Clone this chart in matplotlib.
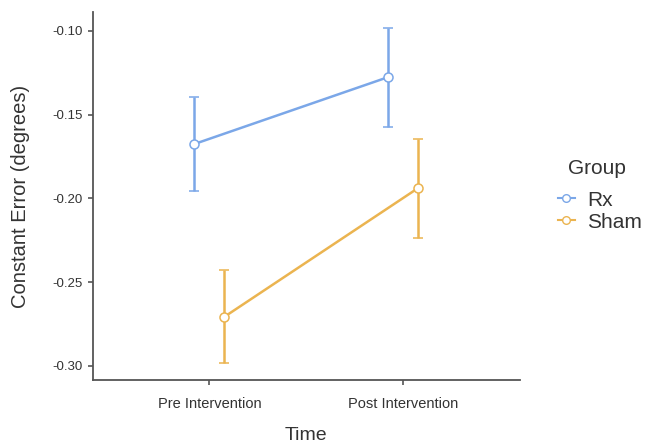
import matplotlib
matplotlib.use("Agg")
import matplotlib.pyplot as plt
from matplotlib.lines import Line2D
import numpy as np

plt.rcParams['font.family'] = ['Liberation Sans', 'DejaVu Sans']

times = ["Pre Intervention", "Post Intervention"]
groups = ["Rx", "Sham"]
colors = ["#7BA7E8", "#EBB450"]

means = {
    "Rx": [-0.1675, -0.1275],
    "Sham": [-0.2707, -0.1937],
}
ci_low = {
    "Rx": [-0.1955, -0.1573],
    "Sham": [-0.2982, -0.2236],
}
ci_high = {
    "Rx": [-0.1394, -0.0982],
    "Sham": [-0.2427, -0.1645],
}

fig = plt.figure(figsize=(6.45, 4.45), dpi=100)
ax = fig.add_axes([0.144, 0.146, 0.662, 0.827])

x = np.arange(1, len(times) + 1)
offsets = [-0.077, 0.077]
handles = []
for g, c, off in zip(groups, colors, offsets):
    m = np.array(means[g])
    lo = m - np.array(ci_low[g])
    hi = np.array(ci_high[g]) - m
    ax.errorbar(x + off, m, yerr=[lo, hi], color=c, lw=1.8, elinewidth=1.8,
                capsize=3.5, capthick=1.8, marker='o', markersize=6.5,
                markerfacecolor='white', markeredgecolor=c, markeredgewidth=1.1,
                zorder=3)
    handles.append(Line2D([], [], color=c, lw=1.5, marker='o', markersize=5.5,
                          markerfacecolor='white', markeredgecolor=c,
                          markeredgewidth=1.0, label=g))

ax.set_xlim(0.4, 2.6)
ax.set_ylim(-0.3084, -0.0887)
ax.set_xticks(x)
ax.set_xticklabels(times)
ax.set_yticks([-0.30, -0.25, -0.20, -0.15, -0.10])
ax.set_yticklabels(["-0.30", "-0.25", "-0.20", "-0.15", "-0.10"])

for s in ["top", "right"]:
    ax.spines[s].set_visible(False)
for s in ["left", "bottom"]:
    ax.spines[s].set_color("#555555")
    ax.spines[s].set_linewidth(1.3)
ax.tick_params(colors="#555555", labelcolor="#333333", length=3.5, width=1.2)
ax.tick_params(axis='y', labelsize=9.5, pad=4)
ax.tick_params(axis='x', labelsize=10.5, pad=9)

ax.set_xlabel("Time", fontsize=14, color="#333333")
ax.set_ylabel("Constant Error (degrees)", fontsize=14.5, color="#333333")
ax.xaxis.set_label_coords(0.5, -0.128)
ax.yaxis.set_label_coords(-0.148, 0.5)

# legend title drawn separately so the gap to the entries matches
fig.text(597 / 645, 1 - 169 / 445, "Group", fontsize=15, color="#333333",
         ha="center", va="center")
leg = ax.legend(handles=handles, loc="center left",
                bbox_to_anchor=(1.045, 0.459), frameon=False, fontsize=15,
                handlelength=0.8, handletextpad=0.6, labelspacing=0.15)
for t in leg.get_texts():
    t.set_color("#333333")

fig.savefig("out.png", dpi=100)
